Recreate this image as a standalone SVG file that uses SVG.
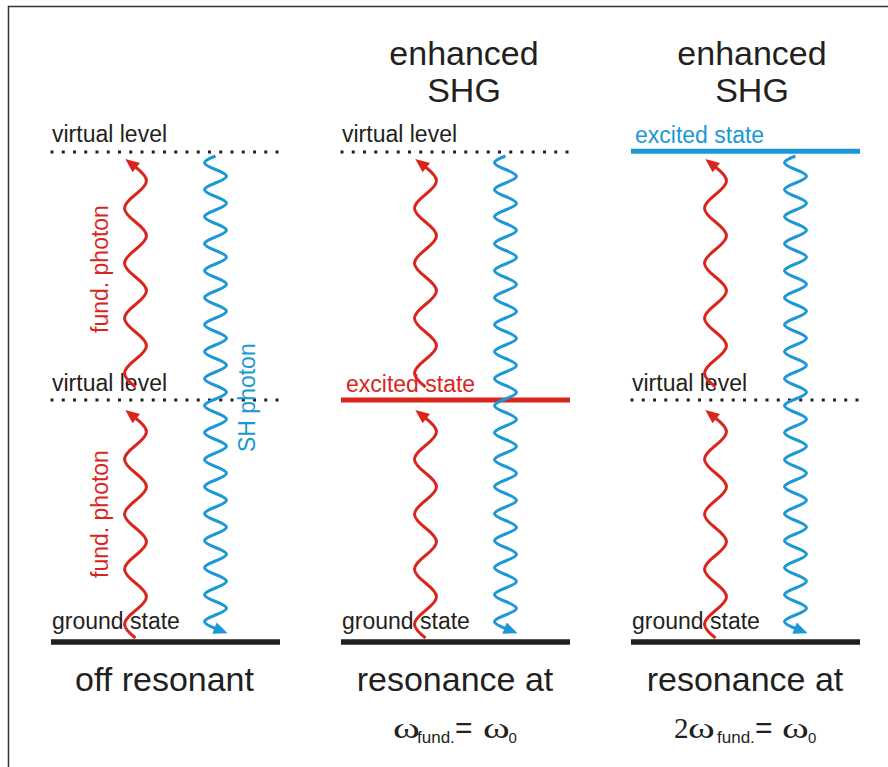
<svg xmlns="http://www.w3.org/2000/svg" width="888" height="767" viewBox="0 0 888 767">
<style>
.t{font-family:"Liberation Sans",Arial,sans-serif;fill:#231f20}
.s{font-size:23px}
.big{font-size:34px}
.red{fill:#da251d}
.blue{fill:#1b98d5}
.ser{font-family:"Liberation Serif","Times New Roman",serif;fill:#231f20;font-size:29px}
.dot{stroke:#231f20;stroke-width:3;stroke-dasharray:3 8.25;fill:none}
.gnd{stroke:#231f20;stroke-width:5.5;fill:none}
.wr{fill:none;stroke:#da251d;stroke-width:3;marker-end:url(#ar)}
.wb{fill:none;stroke:#1b98d5;stroke-width:3;marker-end:url(#ab)}
</style>
<defs>
<marker id="ar" markerUnits="userSpaceOnUse" viewBox="-2 -8 18 16" markerWidth="18" markerHeight="16" refX="0" refY="0" orient="auto"><path d="M13 0L-1 -6L-1 6z" fill="#da251d"/></marker>
<marker id="ab" markerUnits="userSpaceOnUse" viewBox="-2 -8 18 16" markerWidth="18" markerHeight="16" refX="0" refY="0" orient="auto"><path d="M13 0L-1 -6L-1 6z" fill="#1b98d5"/></marker>
</defs>
<rect width="888" height="767" fill="#fff"/>
<path d="M8.5 767V6.5H888" fill="none" stroke="#333" stroke-width="1.5"/>

<g id="titles">
<text class="t big" x="464" y="65" text-anchor="middle">enhanced</text>
<text class="t big" x="464" y="102" text-anchor="middle">SHG</text>
<text class="t big" x="752" y="65" text-anchor="middle">enhanced</text>
<text class="t big" x="752" y="102" text-anchor="middle">SHG</text>
</g>

<g id="col1-virtual-upper"><path class="dot" d="M50.5 152H279"/><text class="t s" x="52" y="142">virtual level</text></g>
<g id="col1-virtual-lower"><path class="dot" d="M50.5 400H279"/><text class="t s" x="52" y="391">virtual level</text></g>
<g id="col1-ground"><path class="gnd" d="M51 642H280"/><text class="t s" x="52" y="629">ground state</text></g>

<g id="col2-virtual"><path class="dot" d="M340.5 152H569"/><text class="t s" x="342" y="142">virtual level</text></g>
<g id="col2-excited"><path d="M341 400H570" stroke="#da251d" stroke-width="5"/><text class="t s red" x="346" y="392">excited state</text></g>
<g id="col2-ground"><path class="gnd" d="M341 642H570"/><text class="t s" x="342" y="629">ground state</text></g>

<g id="col3-excited"><path d="M631 151.3H860" stroke="#1b98d5" stroke-width="5"/><text class="t s blue" x="635" y="143">excited state</text></g>
<g id="col3-virtual"><path class="dot" d="M630.5 400H859"/><text class="t s" x="632" y="391">virtual level</text></g>
<g id="col3-ground"><path class="gnd" d="M631 642H860"/><text class="t s" x="632" y="629">ground state</text></g>

<g id="captions">
<text class="t big" x="164.5" y="691" text-anchor="middle">off resonant</text>
<text class="t big" x="455" y="691" text-anchor="middle">resonance at</text>
<text class="t big" x="745" y="691" text-anchor="middle">resonance at</text>
<text class="ser" transform="translate(393 738) scale(1.4 1)">ω</text>
<text class="t" x="417" y="743" font-size="17">fund.</text>
<text class="t" x="455" y="738" font-size="30">=</text>
<text class="ser" transform="translate(483 738) scale(1.4 1)">ω</text>
<text class="t" x="508.5" y="743" font-size="15">0</text>
<text class="ser" x="674" y="738">2</text>
<text class="ser" transform="translate(688 738) scale(1.4 1)">ω</text>
<text class="t" x="717" y="743" font-size="17">fund.</text>
<text class="t" x="755" y="738" font-size="30">=</text>
<text class="ser" transform="translate(782 738) scale(1.4 1)">ω</text>
<text class="t" x="808" y="743" font-size="15">0</text>
</g>

<g id="photon-labels">
<text class="t s red" transform="translate(108 333) rotate(-90)">fund. photon</text>
<text class="t s red" transform="translate(108 578) rotate(-90)">fund. photon</text>
<text class="t s blue" transform="translate(255 452) rotate(-90)">SH photon</text>
</g>

<g id="connectors">
<path class="wr" d="M135.5 638c-14.67-11.670-14.67-15.83 0-27.5s14.67-15.83 0-27.5s-14.67-15.83 0-27.5s14.67-15.83 0-27.5s-14.67-15.83 0-27.5s14.67-15.83 0-27.5s-14.67-15.83 0-27.5s14.67-15.83 0-27.5"/>
<path class="wr" d="M135.5 387c-14.67-11.670-14.67-15.83 0-27.5s14.67-15.83 0-27.5s-14.67-15.83 0-27.5s14.67-15.83 0-27.5s-14.67-15.83 0-27.5s14.67-15.83 0-27.5s-14.67-15.83 0-27.5s14.67-15.83 0-27.5"/>
<path class="wb" d="M215.5 156c-14.67 5.73-14.67 7.77 0 13.5s14.67 7.77 0 13.5s-14.67 7.77 0 13.5s14.67 7.77 0 13.5s-14.67 7.77 0 13.5s14.67 7.77 0 13.5s-14.67 7.77 0 13.5s14.67 7.77 0 13.5s-14.67 7.77 0 13.5s14.67 7.77 0 13.5s-14.67 7.77 0 13.5s14.67 7.77 0 13.5s-14.67 7.77 0 13.5s14.67 7.77 0 13.5s-14.67 7.77 0 13.5s14.67 7.77 0 13.5s-14.67 7.77 0 13.5s14.67 7.77 0 13.5s-14.67 7.77 0 13.5s14.67 7.77 0 13.5s-14.67 7.77 0 13.5s14.67 7.77 0 13.5s-14.67 7.77 0 13.5s14.67 7.77 0 13.5s-14.67 7.77 0 13.5s14.67 7.77 0 13.5s-14.67 7.77 0 13.5s14.67 7.77 0 13.5s-14.67 7.77 0 13.5s14.67 7.77 0 13.5s-14.67 7.77 0 13.5s14.67 7.77 0 13.5s-14.67 7.77 0 13.5s14.67 7.77 0 13.5s-14.67 7.77 0 13.5"/>

<path class="wr" d="M425.5 638c-14.67-11.670-14.67-15.83 0-27.5s14.67-15.83 0-27.5s-14.67-15.83 0-27.5s14.67-15.83 0-27.5s-14.67-15.83 0-27.5s14.67-15.83 0-27.5s-14.67-15.83 0-27.5s14.67-15.83 0-27.5"/>
<path class="wr" d="M425.5 387c-14.67-11.670-14.67-15.83 0-27.5s14.67-15.83 0-27.5s-14.67-15.83 0-27.5s14.67-15.83 0-27.5s-14.67-15.83 0-27.5s14.67-15.83 0-27.5s-14.67-15.83 0-27.5s14.67-15.83 0-27.5"/>
<path class="wb" d="M505.5 156c-14.67 5.73-14.67 7.77 0 13.5s14.67 7.77 0 13.5s-14.67 7.77 0 13.5s14.67 7.77 0 13.5s-14.67 7.77 0 13.5s14.67 7.77 0 13.5s-14.67 7.77 0 13.5s14.67 7.77 0 13.5s-14.67 7.77 0 13.5s14.67 7.77 0 13.5s-14.67 7.77 0 13.5s14.67 7.77 0 13.5s-14.67 7.77 0 13.5s14.67 7.77 0 13.5s-14.67 7.77 0 13.5s14.67 7.77 0 13.5s-14.67 7.77 0 13.5s14.67 7.77 0 13.5s-14.67 7.77 0 13.5s14.67 7.77 0 13.5s-14.67 7.77 0 13.5s14.67 7.77 0 13.5s-14.67 7.77 0 13.5s14.67 7.77 0 13.5s-14.67 7.77 0 13.5s14.67 7.77 0 13.5s-14.67 7.77 0 13.5s14.67 7.77 0 13.5s-14.67 7.77 0 13.5s14.67 7.77 0 13.5s-14.67 7.77 0 13.5s14.67 7.77 0 13.5s-14.67 7.77 0 13.5s14.67 7.77 0 13.5s-14.67 7.77 0 13.5"/>

<path class="wr" d="M715.5 638c-14.67-11.670-14.67-15.83 0-27.5s14.67-15.83 0-27.5s-14.67-15.83 0-27.5s14.67-15.83 0-27.5s-14.67-15.83 0-27.5s14.67-15.83 0-27.5s-14.67-15.83 0-27.5s14.67-15.83 0-27.5"/>
<path class="wr" d="M715.5 387c-14.67-11.670-14.67-15.83 0-27.5s14.67-15.83 0-27.5s-14.67-15.83 0-27.5s14.67-15.83 0-27.5s-14.67-15.83 0-27.5s14.67-15.83 0-27.5s-14.67-15.83 0-27.5s14.67-15.83 0-27.5"/>
<path class="wb" d="M795.5 156c-14.67 5.73-14.67 7.77 0 13.5s14.67 7.77 0 13.5s-14.67 7.77 0 13.5s14.67 7.77 0 13.5s-14.67 7.77 0 13.5s14.67 7.77 0 13.5s-14.67 7.77 0 13.5s14.67 7.77 0 13.5s-14.67 7.77 0 13.5s14.67 7.77 0 13.5s-14.67 7.77 0 13.5s14.67 7.77 0 13.5s-14.67 7.77 0 13.5s14.67 7.77 0 13.5s-14.67 7.77 0 13.5s14.67 7.77 0 13.5s-14.67 7.77 0 13.5s14.67 7.77 0 13.5s-14.67 7.77 0 13.5s14.67 7.77 0 13.5s-14.67 7.77 0 13.5s14.67 7.77 0 13.5s-14.67 7.77 0 13.5s14.67 7.77 0 13.5s-14.67 7.77 0 13.5s14.67 7.77 0 13.5s-14.67 7.77 0 13.5s14.67 7.77 0 13.5s-14.67 7.77 0 13.5s14.67 7.77 0 13.5s-14.67 7.77 0 13.5s14.67 7.77 0 13.5s-14.67 7.77 0 13.5s14.67 7.77 0 13.5s-14.67 7.77 0 13.5"/>
</g>
</svg>
